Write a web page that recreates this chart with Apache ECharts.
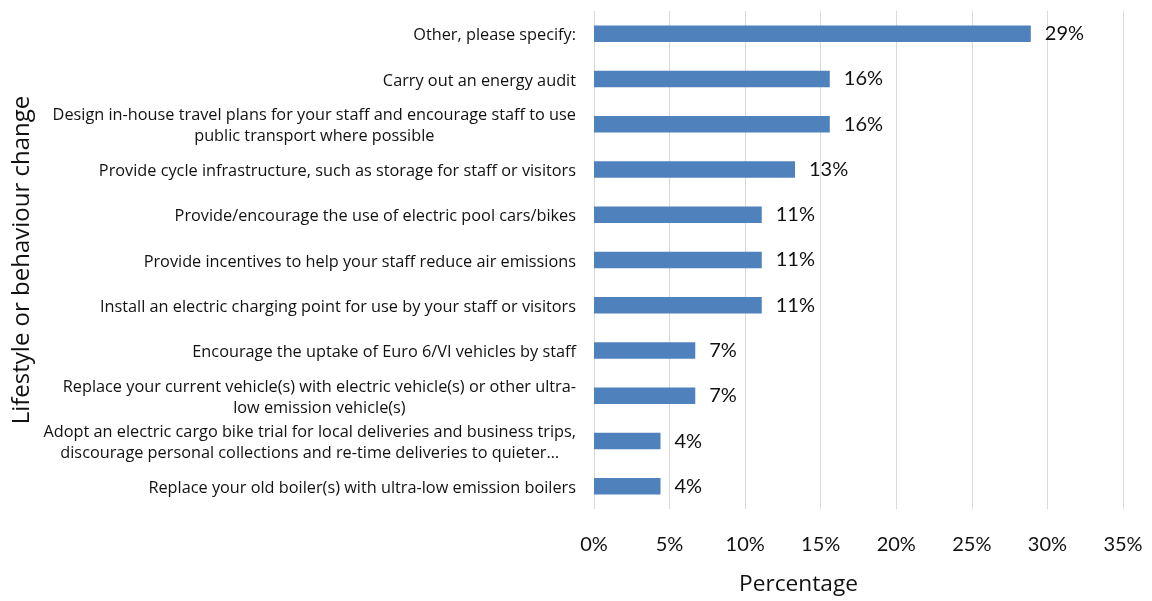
<!DOCTYPE html>
<html>
<head>
<meta charset="utf-8">
<title>Lifestyle or behaviour change</title>
<script src="https://cdn.jsdelivr.net/npm/echarts@6/dist/echarts.min.js"></script>
<style>
  html, body { margin: 0; padding: 0; background: #ffffff; }
  #chart { width: 1152px; height: 601px; }
</style>
</head>
<body>
<div id="chart"></div>
<script>
// Measures, top to bottom
const categories = [
  'Other, please specify:',
  'Carry out an energy audit',
  'Design in-house travel plans for your staff and encourage staff to use\npublic transport where possible',
  'Provide cycle infrastructure, such as storage for staff or visitors',
  'Provide/encourage the use of electric pool cars/bikes',
  'Provide incentives to help your staff reduce air emissions',
  'Install an electric charging point for use by your staff or visitors',
  'Encourage the uptake of Euro 6/VI vehicles by staff',
  'Replace your current vehicle(s) with electric vehicle(s) or other ultra-\nlow emission vehicle(s)',
  'Adopt an electric cargo bike trial for local deliveries and business trips,\ndiscourage personal collections and re-time deliveries to quieter…',
  'Replace your old boiler(s) with ultra-low emission boilers'
];

// Share of respondents (%)
const percentages = [28.9, 15.6, 15.6, 13.3, 11.1, 11.1, 11.1, 6.7, 6.7, 4.4, 4.4];

// Value axis ticks
const axisMin = 0;
const axisMax = 35;
const axisStep = 5;

const textFont = '"Open Sans", Lato, sans-serif';
const numFont = 'Lato, "Open Sans", sans-serif';
const ink = '#111111';

const chart = echarts.init(document.getElementById('chart'), null, { renderer: 'canvas' });

chart.setOption({
  animation: false,
  backgroundColor: '#ffffff',
  grid: { left: 594, right: 29, top: 11, bottom: 88, containLabel: false },
  xAxis: {
    type: 'value',
    min: axisMin,
    max: axisMax,
    interval: axisStep,
    axisLine: { show: false },
    axisTick: { show: false },
    splitLine: { show: true, lineStyle: { color: '#d9d9d9', width: 1 } },
    axisLabel: {
      formatter: '{value}%',
      fontFamily: numFont,
      fontSize: 20,
      color: ink,
      margin: 26
    },
    name: 'Percentage',
    nameLocation: 'middle',
    nameGap: 64,
    nameTextStyle: { fontFamily: textFont, fontSize: 22.7, color: ink, padding: [0, 120, 0, 0] }
  },
  yAxis: {
    type: 'category',
    data: categories,
    inverse: true,
    axisLine: { show: false },
    axisTick: { show: false },
    splitLine: { show: false },
    axisLabel: {
      fontFamily: textFont,
      fontSize: 16.3,
      lineHeight: 21,
      color: ink,
      margin: 18,
      padding: [4, 0, 0, 0],
      // wrapped labels: each line centred within the label block
      formatter: v => v.split('\n').map(line => '{c|' + line + '}').join('\n'),
      rich: {
        c: { align: 'center', fontFamily: textFont, fontSize: 16.3, lineHeight: 21, color: ink }
      }
    },
    name: 'Lifestyle or behaviour change',
    nameLocation: 'middle',
    nameGap: 560,
    nameRotate: 90,
    nameTextStyle: { fontFamily: textFont, fontSize: 24, color: ink }
  },
  series: [{
    type: 'bar',
    data: percentages,
    barWidth: 16.5,
    itemStyle: { color: '#4f81bd' },
    label: {
      show: true,
      position: 'right',
      distance: 14,
      fontFamily: numFont,
      fontSize: 20,
      color: ink,
      formatter: p => Math.round(p.value) + '%'
    }
  }]
});
</script>
</body>
</html>
